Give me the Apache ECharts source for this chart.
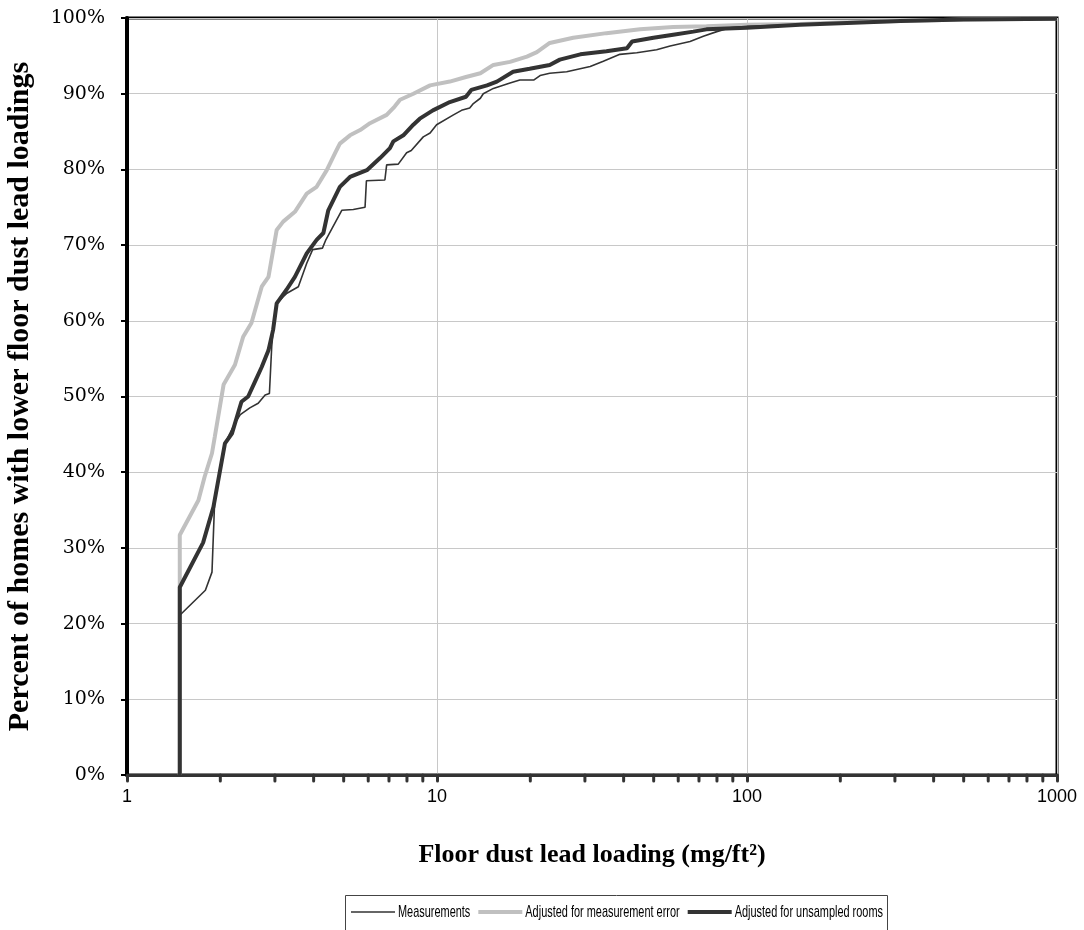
<!DOCTYPE html>
<html>
<head>
<meta charset="utf-8">
<title>Floor dust lead loading</title>
<script src="https://cdn.jsdelivr.net/npm/echarts@6/dist/echarts.min.js"></script>
<style>
  html, body { margin: 0; padding: 0; background: #ffffff; }
  #chart { width: 1084px; height: 930px; }
</style>
</head>
<body>
<div id="chart"></div>
<script>
// Cumulative distributions: [floor dust lead loading, percent of homes below it]
const measurements = [
  [1.48, 0], [1.48, 21.1], [1.79, 24.4], [1.88, 26.8], [1.92, 36.8], [2.07, 43.8],
  [2.23, 46.5], [2.32, 47.6], [2.49, 48.5], [2.65, 49.1], [2.79, 50.2], [2.88, 50.4],
  [2.93, 56.6], [3.00, 61.0], [3.04, 62.3], [3.19, 63.2], [3.27, 63.6], [3.57, 64.5],
  [3.80, 67.6], [3.97, 69.4], [4.27, 69.6], [4.38, 70.7], [4.93, 74.6], [5.37, 74.7],
  [5.86, 75.0], [5.92, 78.5], [6.79, 78.6], [6.88, 80.6], [7.5, 80.7], [7.98, 82.2],
  [8.26, 82.5], [9.03, 84.3], [9.5, 84.8], [9.97, 85.9], [11.3, 87.2], [12.0, 87.8],
  [12.75, 88.1], [13.1, 88.7], [13.8, 89.4], [14.1, 90.0], [15.2, 90.7], [17.2, 91.4],
  [18.5, 91.8], [20.5, 91.8], [21.5, 92.4], [23.1, 92.7], [26.2, 92.9], [31.2, 93.6],
  [34.4, 94.3], [38.9, 95.2], [44.1, 95.4], [51.1, 95.8], [56.5, 96.3], [65.5, 96.9],
  [72.3, 97.6], [79.9, 98.2], [88.1, 98.7], [100, 98.9], [148, 99.1], [200, 99.3],
  [312, 99.6], [500, 99.8], [1000, 99.9]
];

const adjustedMeasurementError = [
  [1.48, 0], [1.48, 31.7], [1.70, 36.3], [1.78, 39.4], [1.88, 42.5], [1.92, 44.7],
  [2.05, 51.6], [2.23, 54.2], [2.37, 57.9], [2.52, 59.7], [2.72, 64.5], [2.86, 65.8],
  [3.04, 72.0], [3.19, 73.1], [3.48, 74.4], [3.80, 76.8], [4.09, 77.7], [4.41, 79.9],
  [4.75, 82.6], [4.86, 83.4], [5.24, 84.5], [5.65, 85.2], [6.08, 86.1], [6.88, 87.2],
  [7.3, 88.3], [7.6, 89.2], [8.39, 90.0], [9.5, 91.1], [11.0, 91.6], [12.4, 92.2],
  [13.8, 92.7], [15.2, 93.8], [17.2, 94.2], [19.5, 94.9], [21.0, 95.5], [23.1, 96.7],
  [27.5, 97.4], [35.2, 98.0], [45.2, 98.5], [57.8, 98.8], [74.0, 98.9], [100, 99.1],
  [148, 99.2], [200, 99.4], [312, 99.6], [500, 99.8], [1000, 99.9]
];

const adjustedUnsampledRooms = [
  [1.48, 0], [1.48, 24.8], [1.76, 30.7], [1.90, 35.4], [2.07, 43.8], [2.18, 45.1],
  [2.34, 49.3], [2.46, 50.0], [2.59, 52.0], [2.72, 53.9], [2.86, 56.1], [2.96, 58.8],
  [3.04, 62.3], [3.27, 64.1], [3.48, 65.8], [3.80, 68.9], [4.09, 70.7], [4.30, 71.6],
  [4.46, 74.6], [4.86, 77.7], [5.24, 79.0], [5.94, 79.9], [6.55, 81.5], [7.05, 82.8],
  [7.23, 83.7], [7.79, 84.5], [8.39, 85.9], [8.8, 86.7], [9.7, 87.8], [11.0, 88.9],
  [12.4, 89.6], [12.9, 90.5], [14.5, 91.1], [15.6, 91.6], [17.6, 92.9], [19.9, 93.3],
  [23.1, 93.8], [24.9, 94.5], [29.0, 95.2], [35.2, 95.6], [41.0, 96.0], [42.6, 96.9],
  [49.9, 97.4], [57.8, 97.8], [67.1, 98.2], [74.0, 98.5], [100, 98.7], [148, 99.1],
  [200, 99.3], [312, 99.6], [500, 99.8], [1000, 99.9]
];

// Minor tick positions on the logarithmic x axis
const minorTickValues = [
  2, 3, 4, 5, 6, 7, 8, 9,
  20, 30, 40, 50, 60, 70, 80, 90,
  200, 300, 400, 500, 600, 700, 800, 900
];

const seriesNames = [
  'Measurements',
  'Adjusted for measurement error',
  'Adjusted for unsampled rooms'
];

// Line styles shared by the series and the legend keys
const lineColors = ['#333333', '#c0c0c0', '#333333'];
const lineWidths = [1.6, 4, 4];
const lineZ = [4, 3, 5];

const serif = '"Liberation Serif", "Times New Roman", serif';
const sans = '"Liberation Sans", Arial, sans-serif';

// Boxed legend along the bottom edge, with narrowed lettering
function buildLegend() {
  const fontSize = 17;
  const font = fontSize + 'px ' + sans;
  const ctx = document.createElement('canvas').getContext('2d');
  ctx.font = font;
  const widths = seriesNames.map(n => ctx.measureText(n).width);
  const total = widths.reduce((a, b) => a + b, 0);
  const boxW = 542, boxH = 60;
  const keyLen = 44, keyGap = 3, itemGap = 8, padL = 6, padR = 4, midY = 17;
  const sx = (boxW - padL - padR - seriesNames.length * (keyLen + keyGap) - (seriesNames.length - 1) * itemGap) / total;
  const children = [{
    type: 'rect',
    shape: { x: 0.5, y: 0.5, width: boxW, height: boxH },
    style: { fill: null, stroke: '#444444', lineWidth: 1 }
  }];
  let x = padL;
  seriesNames.forEach((name, i) => {
    children.push({
      type: 'line',
      shape: { x1: x, y1: midY, x2: x + keyLen, y2: midY },
      style: { stroke: lineColors[i], lineWidth: lineWidths[i] }
    });
    children.push({
      type: 'text',
      x: x + keyLen + keyGap, y: midY,
      scaleX: sx, scaleY: 1,
      style: { text: name, font: font, fill: '#000000', verticalAlign: 'middle', align: 'left' }
    });
    x += keyLen + keyGap + widths[i] * sx + itemGap;
  });
  return { type: 'group', x: 345, y: 895, silent: true, children: children };
}

const chart = echarts.init(document.getElementById('chart'), null, { renderer: 'canvas' });

chart.setOption({
  animation: false,
  backgroundColor: '#ffffff',
  grid: {
    left: 127, right: 27, top: 18, bottom: 155,
    show: true, borderColor: '#000000', borderWidth: 3,
    containLabel: false,
    outerBoundsMode: 'none'
  },
  graphic: [buildLegend()],
  xAxis: {
    type: 'log', logBase: 10, min: 1, max: 1000,
    name: 'Floor dust lead loading (mg/ft²)',
    nameLocation: 'middle', nameGap: 67,
    nameTextStyle: { fontFamily: serif, fontWeight: 'bold', fontSize: 26, color: '#000000' },
    axisLine: { show: true, lineStyle: { color: '#333333', width: 3 } },
    axisTick: { show: true, inside: false, length: 6, lineStyle: { color: '#333333', width: 3, cap: 'round' } },
    axisLabel: {
      formatter: function (v) { return String(v); },
      fontFamily: sans, fontSize: 18, color: '#000000', margin: 13
    },
    splitLine: { show: true, lineStyle: { color: '#c8c8c8', width: 1 } },
    minorTick: { show: false },
    minorSplitLine: { show: false }
  },
  yAxis: {
    type: 'value', min: 0, max: 100, interval: 10,
    name: 'Percent of homes with lower floor dust lead loadings',
    nameLocation: 'middle', nameGap: 92,
    nameTextStyle: { fontFamily: serif, fontWeight: 'bold', fontSize: 30, color: '#000000' },
    axisLine: { show: true, lineStyle: { color: '#000000', width: 4 } },
    axisTick: { show: true, inside: false, length: 6, lineStyle: { color: '#000000', width: 2 } },
    axisLabel: {
      formatter: '{value}%',
      fontFamily: '"DejaVu Serif", ' + serif, fontSize: 19, color: '#000000', margin: 22
    },
    splitLine: { show: true, lineStyle: { color: '#c8c8c8', width: 1 } }
  },
  series: [
    {
      name: seriesNames[0], type: 'line', data: measurements,
      showSymbol: false, symbol: 'none', smooth: false, z: lineZ[0],
      lineStyle: { color: lineColors[0], width: lineWidths[0] }, itemStyle: { color: lineColors[0] }
    },
    {
      name: seriesNames[1], type: 'line', data: adjustedMeasurementError,
      showSymbol: false, symbol: 'none', smooth: false, z: lineZ[1],
      lineStyle: { color: lineColors[1], width: lineWidths[1] }, itemStyle: { color: lineColors[1] }
    },
    {
      name: seriesNames[2], type: 'line', data: adjustedUnsampledRooms,
      showSymbol: false, symbol: 'none', smooth: false, z: lineZ[2],
      lineStyle: { color: lineColors[2], width: lineWidths[2] }, itemStyle: { color: lineColors[2] }
    },
    {
      // short marks below the x axis at 2..9 of each decade
      name: 'minorTicks', type: 'custom', silent: true, clip: false, z: 6,
      data: minorTickValues.map(v => [v, 0]),
      encode: { x: 0, y: 1 },
      renderItem: function (params, api) {
        const p = api.coord([api.value(0), 0]);
        return {
          type: 'line',
          shape: { x1: p[0], y1: p[1], x2: p[0], y2: p[1] + 6 },
          style: { stroke: '#333333', lineWidth: 3, lineCap: 'round' }
        };
      }
    }
  ]
});
</script>
</body>
</html>
